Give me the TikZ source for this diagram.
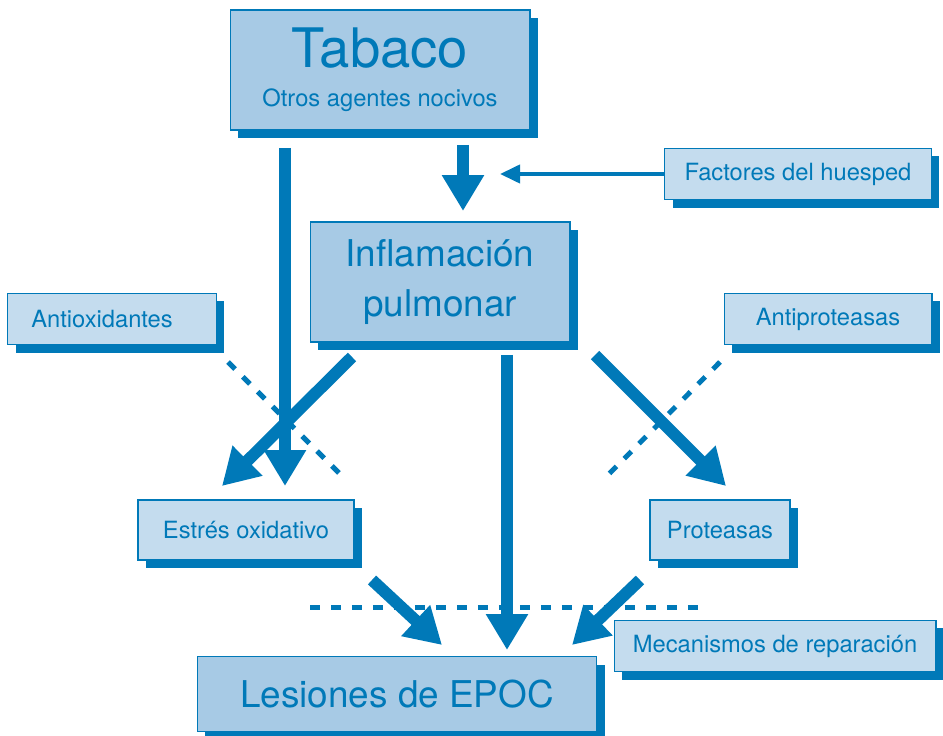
\documentclass[tikz,border=0pt]{standalone}
\usepackage{fontspec}
\setmainfont{TeX Gyre Heros}
\usetikzlibrary{arrows.meta,shadows}
\definecolor{epocblue}{RGB}{0,121,184}
\definecolor{mainfill}{RGB}{167,202,229}
\definecolor{smallfill}{RGB}{196,220,238}

\begin{document}
\begin{tikzpicture}[
  x=0.02cm, y=-0.02cm,
  font=\fontsize{13.5}{16}\selectfont, text=epocblue,
  box/.style={draw=epocblue, line width=0.6pt, inner sep=0pt, align=center,
    drop shadow={shadow xshift=0.16cm, shadow yshift=-0.16cm, fill=epocblue, opacity=1}},
  mainbox/.style={box, fill=mainfill, font=\fontsize{21}{28.5}\selectfont},
  smallbox/.style={box, fill=smallfill, minimum height=1.03cm},
  big/.style={-{Triangle[length=0.72cm, width=0.8cm]}, line width=0.24cm, epocblue},
  thin/.style={-{Triangle[length=0.4cm, width=0.36cm]}, line width=0.08cm, epocblue},
  block/.style={line width=0.1cm, epocblue, dash pattern=on 0.2cm off 0.22cm}
]
\useasboundingbox (0,0) rectangle (943,736);

\node[mainbox, minimum width=6cm, minimum height=2.4cm] (tabaco) at (380,70)
  {{\fontsize{31}{31}\selectfont Tabaco}\\[-0.22cm]{\fontsize{13.5}{16}\selectfont Otros agentes nocivos}};
\node[smallbox, minimum width=5.34cm] (huesped) at (798,174) {Factores del huesped};
\node[mainbox, minimum width=5.2cm, minimum height=2.4cm] (inflam) at (440,282) {Inflamación\\pulmonar};
\node[smallbox, minimum width=4.18cm] (antiox) at (112,319) {Antioxidantes\hspace*{0.4cm}};
\node[smallbox, minimum width=4.16cm] (antiprot) at (828,319) {Antiproteasas};
\node[smallbox, minimum width=4.32cm, minimum height=1.2cm] (estres) at (246,530) {Estrés oxidativo};
\node[smallbox, minimum width=2.8cm, minimum height=1.2cm] (prot) at (720,530) {Proteasas};
\node[smallbox, minimum width=6.44cm] (repar) at (775,646) {Mecanismos de reparación};
\node[mainbox, minimum width=8cm, minimum height=1.5cm] (lesion) at (397,694) {Lesiones de EPOC};

% arrow ends
\coordinate (t1) at (285,148);  \coordinate (t1e) at (285,486);
\coordinate (t2) at (463,145);  \coordinate (t2e) at (463,211);
\coordinate (h1) at (500,174);
\coordinate (i1) at (352,357);  \coordinate (i1e) at (222,486);
\coordinate (i2) at (507,355);  \coordinate (i2e) at (507,650);
\coordinate (i3) at (595,355);  \coordinate (i3e) at (726,486);
\coordinate (e1) at (372,580);  \coordinate (e1e) at (442,645);
\coordinate (p1) at (640,580);  \coordinate (p1e) at (572,645);

% blocking lines
\draw[block] (228,362) -- (342,476);
\draw[block] (720,362) -- (605,478);
\draw[block] (310,607) -- (705,607);

\draw[big] (t1) -- (t1e);
\draw[big] (t2) -- (t2e);
\draw[thin] (huesped.west) -- (h1);
\draw[big] (i1) -- (i1e);
\draw[big] (i2) -- (i2e);
\draw[big] (i3) -- (i3e);
\draw[big] (e1) -- (e1e);
\draw[big] (p1) -- (p1e);
\end{tikzpicture}
\end{document}
